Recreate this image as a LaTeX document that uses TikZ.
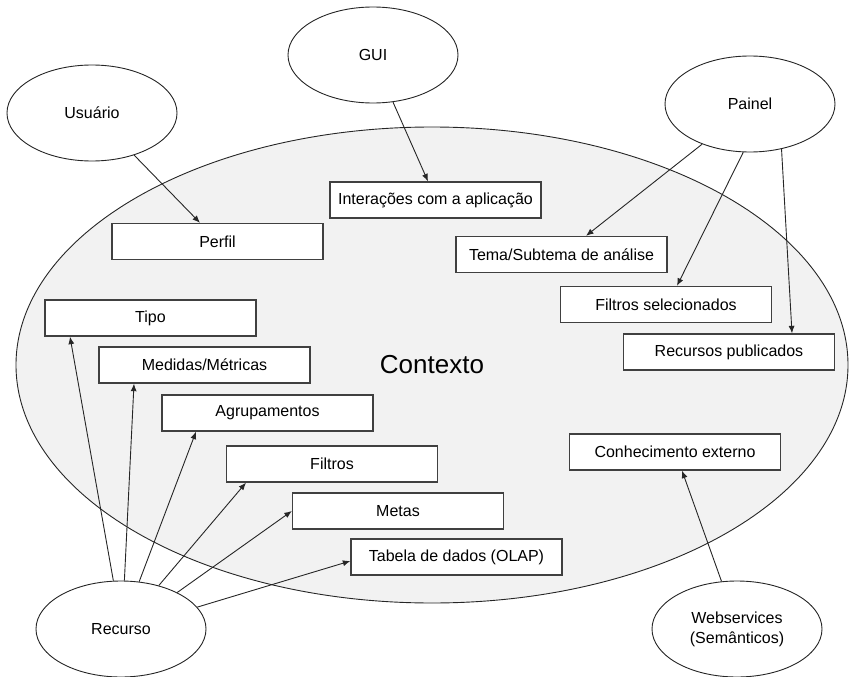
\documentclass[tikz,border=0pt]{standalone}
\usepackage{fontspec}
\setmainfont{Liberation Sans}
\usetikzlibrary{arrows.meta,shapes.geometric}

\tikzset{
  caixa/.style={draw=black!75, line width=1.3pt, fill=white, minimum width=211pt,
    minimum height=36pt, inner sep=0pt, font=\fontsize{16}{19}\selectfont},
  elipse/.style={ellipse, draw=black!85, line width=0.9pt, fill=white, minimum width=170pt,
    minimum height=96pt, inner sep=0pt, align=center, font=\fontsize{16}{20}\selectfont},
  seta/.style={draw=black!85, line width=0.9pt, -{Latex[length=7.5pt,width=6pt]}}
}

\begin{document}
\begin{tikzpicture}[x=1pt,y=-1pt]
\useasboundingbox (0,0) rectangle (849,677);
% contexto
\node[ellipse, draw=black!85, line width=0.9pt, fill=black!5, minimum width=832pt,
  minimum height=476pt, inner sep=0pt, font=\fontsize{26}{30}\selectfont] (contexto) at (432,365) {Contexto};
% fontes
\node[elipse] (usuario) at (92,113) {Usuário};
\node[elipse] (gui) at (373,55) {GUI};
\node[elipse] (painel) at (750,104) {Painel};
\node[elipse] (recurso) at (121,629) {Recurso};
\node[elipse] (webservices) at (737,629) {Webservices\\(Semânticos)};
% caixas
\node[caixa] (interacoes) at (435.5,200) {Interações com a aplicação};
\node[caixa] (perfil) at (217.5,241.5) {Perfil};
\node[caixa] (tema) at (561.5,254.5) {Tema/Subtema de análise};
\node[caixa] (filtrossel) at (666,304.5) {Filtros selecionados};
\node[caixa] (publicados) at (729,352) {Recursos publicados};
\node[caixa] (tipo) at (150.5,318) {Tipo};
\node[caixa] (medidas) at (204.5,365) {Medidas/Métricas};
\node[caixa] (agrupamentos) at (267.5,413) {Agrupamentos};
\node[caixa] (filtros) at (332,464) {Filtros};
\node[caixa] (metas) at (398,511) {Metas};
\node[caixa] (tabela) at (456.5,557) {Tabela de dados (OLAP)};
\node[caixa] (conhecimento) at (675,452) {Conhecimento externo};
% setas
\draw[seta] (usuario.-45.7) -- ([xshift=-17.5pt]perfil.north);
\draw[seta] (gui.-67.4) -- ([xshift=-7.5pt]interacoes.north);
\draw[seta] (painel.-140.8) -- ([xshift=24.5pt]tema.north);
\draw[seta] (painel.-98.3) -- ([xshift=11pt]filtrossel.north);
\draw[seta] (painel.-55.2) -- ([xshift=63pt]publicados.north);
\draw[seta] (recurso.99.7) -- ([xshift=-80.5pt]tipo.south);
\draw[seta] (recurso.86.3) -- ([xshift=-70.5pt]medidas.south);
\draw[seta] (recurso.69) -- ([xshift=-71.5pt]agrupamentos.south);
\draw[seta] (recurso.49.2) -- ([xshift=-86pt]filtros.south);
\draw[seta] (recurso.33.9) -- (metas.west);
\draw[seta] (recurso.16.8) -- ([yshift=-4pt]tabela.west);
\draw[seta] (webservices.108.4) -- ([xshift=7pt]conhecimento.south);
\end{tikzpicture}
\end{document}
